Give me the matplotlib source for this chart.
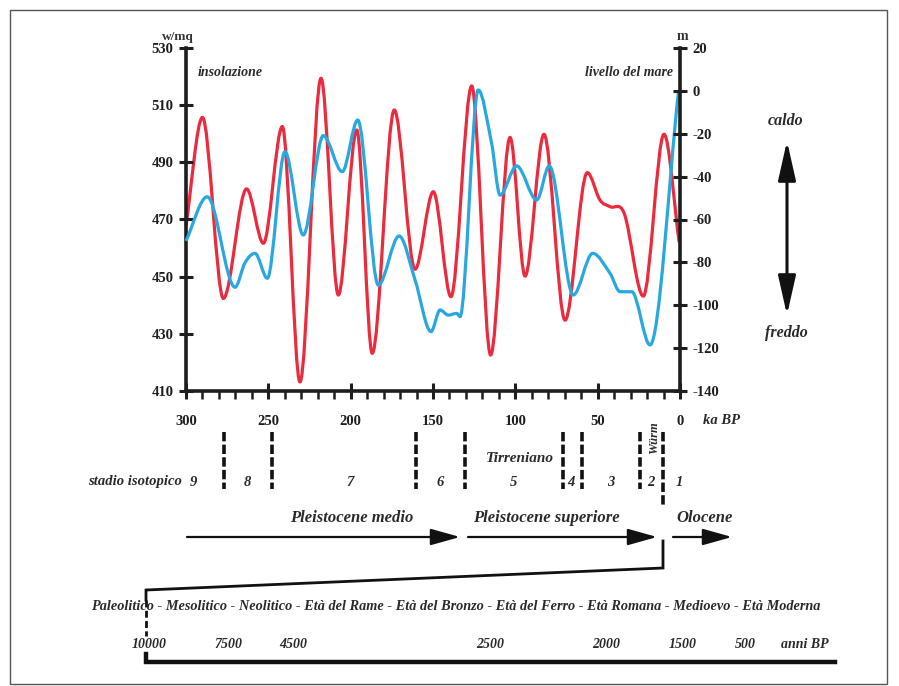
import numpy as np
import matplotlib
matplotlib.use('Agg')
import matplotlib.pyplot as plt
from matplotlib.path import Path
from matplotlib.patches import PathPatch, FancyArrowPatch, Rectangle, ArrowStyle
from matplotlib.transforms import blended_transform_factory
from matplotlib.ticker import MultipleLocator, FixedLocator

plt.rcParams['font.family'] = ['Liberation Serif', 'DejaVu Serif']
plt.rcParams['axes.unicode_minus'] = False

# ---------------- data ----------------
red_ka = [300, 290.0, 277.3, 263.2, 253.0, 241.5, 230.8, 218.0, 207.5, 196.3, 186.9,
          173.5, 160.9, 149.8, 139.1, 126.5, 115.0, 103.2, 94.1, 82.6, 69.8, 56.3,
          48.6, 42.5, 33.8, 22.3, 9.7, 0.5]
red_wm2 = [468, 505.7, 442.4, 480.7, 461.7, 502.5, 413.2, 519.4, 443.6, 501.3, 423.2,
           508.3, 452.6, 479.7, 443.0, 516.7, 422.6, 498.7, 450.2, 499.8, 434.8, 486.4,
           476.8, 474.5, 472.0, 443.2, 499.8, 462]

blue_ka = [300, 287.1, 270.2, 264.2, 258.1, 250.6, 239.9, 228.8, 216.6, 205.1, 195.7,
           183.2, 170.6, 160.9, 151.2, 145.7, 140.7, 135.6, 133.6, 122.5, 114.4, 109.3,
           99.2, 87.0, 79.4, 64.8, 53.0, 42.5, 36.4, 29.3, 18.2, 1.0]
blue_m = [-70, -49.4, -91.6, -80.2, -75.8, -87.4, -28.4, -67.2, -20.9, -37.7, -13.6,
          -90.6, -67.7, -88.2, -112.3, -102.2, -104.6, -103.8, -105.3, 0.4, -24.5, -48.6,
          -35.0, -50.9, -35.0, -95.2, -75.8, -85.1, -93.7, -93.7, -118.5, -1.0]

stage_bounds_ka = [276.9, 247.8, 160.3, 130.6, 70.9, 59.7, 24.3, 10.1]
stage_labels = ['9', '8', '7', '6', '5', '4', '3', '2', '1']
x_ticks = [300, 250, 200, 150, 100, 50, 0]
left_ticks = [410, 430, 450, 470, 490, 510, 530]
right_ticks = [-140, -120, -100, -80, -60, -40, -20, 0, 20]
periods = ("Paleolitico - Mesolitico - Neolitico - Età del Rame - Età del Bronzo - "
           "Età del Ferro - Età Romana - Medioevo - Età Moderna")
years = ['10000', '7500', '4500', '2500', '2000', '1500', '500']

RED = '#ec2a3e'
BLUE = '#29a8df'
INK = '#1e1e1e'
W, H = 899, 686


def hermite_path(xs, ys):
    xs = np.asarray(xs, float)
    ys = np.asarray(ys, float)
    n = len(xs)
    m = np.zeros(n)
    for i in range(n):
        if i == 0:
            m[i] = (ys[1] - ys[0]) / (xs[1] - xs[0])
        elif i == n - 1:
            m[i] = (ys[-1] - ys[-2]) / (xs[-1] - xs[-2])
        else:
            d1 = ys[i] - ys[i - 1]
            d2 = ys[i + 1] - ys[i]
            if d1 * d2 <= 0:
                m[i] = 0.0
            else:
                m[i] = (ys[i + 1] - ys[i - 1]) / (xs[i + 1] - xs[i - 1])
    verts = [(xs[0], ys[0])]
    codes = [Path.MOVETO]
    for i in range(n - 1):
        h = xs[i + 1] - xs[i]
        verts += [(xs[i] + h / 3, ys[i] + m[i] * h / 3),
                  (xs[i + 1] - h / 3, ys[i + 1] - m[i + 1] * h / 3),
                  (xs[i + 1], ys[i + 1])]
        codes += [Path.CURVE4] * 3
    return Path(verts, codes)


fig = plt.figure(figsize=(W / 100, H / 100), dpi=100)

# pixel overlay (for annotations)
ov = fig.add_axes([0, 0, 1, 1], zorder=0)
ov.set_xlim(0, W)
ov.set_ylim(H, 0)
ov.axis('off')

ax_l, ax_r, ax_t, ax_b = 186, 680, 48, 391
ax = fig.add_axes([ax_l / W, 1 - ax_b / H, (ax_r - ax_l) / W, (ax_b - ax_t) / H], zorder=2)
ax.patch.set_alpha(0)
ax2 = ax.twinx()
ax2.patch.set_alpha(0)

ax.set_xlim(300, 0)
ax.set_ylim(410, 530)
ax2.set_ylim(-140, 20)

ax.add_patch(PathPatch(hermite_path(red_ka, red_wm2), facecolor='none',
                       edgecolor=RED, lw=2.3, transform=ax.transData, clip_on=False))
ax2.add_patch(PathPatch(hermite_path(blue_ka, blue_m), facecolor='none',
                        edgecolor=BLUE, lw=2.3, transform=ax2.transData, clip_on=False))

for s in ['top', 'right']:
    ax.spines[s].set_visible(False)
for s in ['top', 'left', 'bottom']:
    ax2.spines[s].set_visible(False)
for s in ['left', 'bottom']:
    ax.spines[s].set_linewidth(2.6)
    ax.spines[s].set_color(INK)
ax2.spines['right'].set_linewidth(2.6)
ax2.spines['right'].set_color(INK)

tick_font = dict(family=['Liberation Serif', 'DejaVu Serif'], weight='bold', size=10.5)

ax.yaxis.set_major_locator(FixedLocator(left_ticks))
ax.set_yticklabels([str(t) for t in left_ticks], **tick_font, color='#333')
ax.tick_params(axis='y', direction='inout', length=10, width=2.2, pad=4, colors=INK)

ax2.yaxis.set_major_locator(FixedLocator(right_ticks))
ax2.set_yticklabels([str(t) for t in right_ticks], **tick_font, color='#333')
ax2.tick_params(axis='y', direction='inout', length=10, width=2.2, pad=4, colors=INK)

ax.xaxis.set_major_locator(FixedLocator(x_ticks))
ax.xaxis.set_minor_locator(MultipleLocator(10))
ax.set_xticklabels([str(t) for t in x_ticks], **tick_font, color='#333')
ax.tick_params(axis='x', which='major', direction='inout', length=12, width=2.2, pad=11, colors=INK)
ax.tick_params(axis='x', which='minor', direction='out', length=6, width=1.8, colors=INK)

# ---------------- annotations ----------------
ital = dict(family=['Liberation Serif', 'DejaVu Serif'], style='italic', weight='bold', color='#2a2a2a')
plain = dict(family=['Liberation Serif', 'DejaVu Serif'], weight='bold', color='#333')

ov.text(178, 37, 'w/mq', ha='center', va='center', fontsize=9.5, **plain)
ov.text(682, 37, 'm', ha='center', va='center', fontsize=10, **plain)
ov.text(198, 73, 'insolazione', ha='left', va='center', fontsize=10, **ital)
ov.text(673, 73, 'livello del mare', ha='right', va='center', fontsize=10, **ital)
ov.text(703, 420, 'ka BP', ha='left', va='center', fontsize=10.5, **ital)

ov.text(786, 121, 'caldo', ha='center', va='center', fontsize=11.5, **ital)
ov.text(786, 333, 'freddo', ha='center', va='center', fontsize=11.5, **ital)
ov.add_patch(FancyArrowPatch((787, 141), (787, 315),
                             arrowstyle=ArrowStyle('<|-|>', head_length=1.2, head_width=0.27),
                             mutation_scale=20, lw=2.2, color='#111', shrinkA=0, shrinkB=0))

# isotopic stage boundaries (x in ka, y in pixels)
btr = blended_transform_factory(ax.transData, ov.transData)
for i, b in enumerate(stage_bounds_ka):
    y1 = 505 if i == len(stage_bounds_ka) - 1 else 489
    ov.plot([b, b], [432, y1], transform=btr, color='#111', lw=2.6,
            linestyle=(0, (2.6, 0.9)), clip_on=False, solid_capstyle='butt')

stage_x = [193, 247, 350, 440, 514, 571, 611, 651, 679]
for sx, lab in zip(stage_x, stage_labels):
    ov.text(sx, 482, lab, ha='center', va='center', fontsize=10.5, **ital)
ov.text(182, 482, 'stadio isotopico', ha='right', va='center', fontsize=10.5, **ital)
ov.text(520, 459, 'Tirreniano', ha='center', va='center', fontsize=11, **ital)
ov.text(654, 438, 'Würm', ha='center', va='center', fontsize=9, rotation=90, **ital)

ov.text(352, 518, 'Pleistocene medio', ha='center', va='center', fontsize=12, **ital)
ov.text(546, 518, 'Pleistocene superiore', ha='center', va='center', fontsize=12, **ital)
ov.text(705, 518, 'Olocene', ha='center', va='center', fontsize=12, **ital)
for x0, x1 in [(187, 460), (468, 657), (673, 732)]:
    ov.add_patch(FancyArrowPatch((x0, 537), (x1, 537),
                                 arrowstyle=ArrowStyle('-|>', head_length=1.0, head_width=0.28),
                                 mutation_scale=18, lw=1.6, color='#111', shrinkA=0, shrinkB=0))

# zoom connector to Holocene timeline
ov.plot([663, 663, 146, 146], [541, 568, 590, 600], color='#111', lw=2.0, solid_joinstyle='miter')
ov.plot([146, 146], [600, 636], color='#111', lw=2.0, linestyle=(0, (2.5, 1.2)))
ov.plot([146, 146, 835], [654, 662, 662], color='#111', lw=3.2, solid_joinstyle='miter')

ov.text(456, 606, periods, ha='center', va='center', fontsize=10.3, **ital)
year_x = [149, 228, 293, 490, 606, 683, 745]
for yx, yl in zip(year_x, years):
    ov.text(yx, 645, yl, ha='center', va='center', fontsize=10, **ital)
ov.text(805, 645, 'anni BP', ha='center', va='center', fontsize=10, **ital)

# outer frame
ov.add_patch(Rectangle((10, 10), 877, 674, fill=False, edgecolor='#555', lw=1.0))

fig.savefig('out.png', dpi=100)
